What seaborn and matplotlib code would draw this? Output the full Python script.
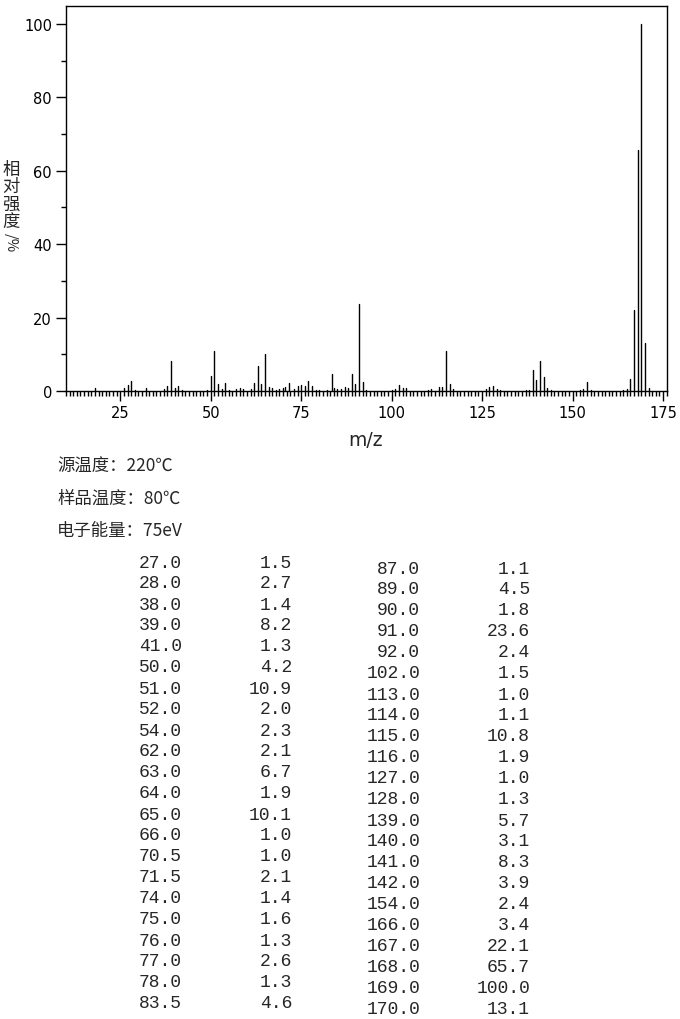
import pandas as pd
import seaborn as sns
import matplotlib.pyplot as plt
from matplotlib.ticker import MultipleLocator

# 质谱数据（表中列出的峰）
table_mz = [27.0, 28.0, 38.0, 39.0, 41.0, 50.0, 51.0, 52.0, 54.0, 62.0, 63.0,
            64.0, 65.0, 66.0, 70.5, 71.5, 74.0, 75.0, 76.0, 77.0, 78.0, 83.5,
            87.0, 89.0, 90.0, 91.0, 92.0, 102.0, 113.0, 114.0, 115.0, 116.0,
            127.0, 128.0, 139.0, 140.0, 141.0, 142.0, 154.0, 166.0, 167.0,
            168.0, 169.0, 170.0]
table_int = [1.5, 2.7, 1.4, 8.2, 1.3, 4.2, 10.9, 2.0, 2.3, 2.1, 6.7,
             1.9, 10.1, 1.0, 1.0, 2.1, 1.4, 1.6, 1.3, 2.6, 1.3, 4.6,
             1.1, 4.5, 1.8, 23.6, 2.4, 1.5, 1.0, 1.1, 10.8, 1.9,
             1.0, 1.3, 5.7, 3.1, 8.3, 3.9, 2.4, 3.4, 22.1,
             65.7, 100.0, 13.1]

# 小峰（<1%）
minor_mz = [18, 26, 29, 32, 37, 40, 42, 49, 53, 55, 57, 58, 59, 61, 67, 68,
            69, 70, 73, 79, 80, 82, 84, 85, 86, 88, 93, 100, 101, 103, 104,
            110, 111, 117, 126, 129, 130, 137, 138, 143, 144, 152, 153, 155,
            164, 165, 171]
minor_int = [0.8, 0.8, 0.4, 0.9, 0.5, 0.9, 0.4, 0.4, 0.5, 0.4, 0.6, 0.8, 0.6,
             0.6, 0.7, 0.4, 0.6, 0.8, 0.5, 0.4, 0.4, 0.4, 0.8, 0.6, 0.5, 0.8,
             0.4, 0.4, 0.5, 0.7, 0.8, 0.4, 0.5, 0.5, 0.6, 0.6, 0.4, 0.4, 0.4,
             0.8, 0.3, 0.4, 0.6, 0.4, 0.4, 0.6, 0.8]

info_lines = ["源温度：220℃", "样品温度：80℃", "电子能量：75eV"]

# 每个峰画成一条竖线：(mz, 0) -> (mz, 强度)
all_mz = table_mz + minor_mz
all_int = table_int + minor_int
rows = []
for i, (m, v) in enumerate(zip(all_mz, all_int)):
    rows.append({"peak": i, "mz": m, "intensity": 0.0})
    rows.append({"peak": i, "mz": m, "intensity": v})
df = pd.DataFrame(rows)

sns.set_style("ticks")
plt.rcParams["font.family"] = ["DejaVu Sans", "Noto Sans CJK SC"]

fig = plt.figure(figsize=(6.8, 10.2), dpi=100)
ax = fig.add_axes([66 / 680, 1 - 392 / 1020, 601 / 680, 385 / 1020])

sns.lineplot(data=df, x="mz", y="intensity", units="peak", estimator=None,
             color="black", linewidth=1.0, ax=ax, legend=False)

ax.set_xlim(10, 176.1)
ax.set_ylim(0, 104.9)
ax.xaxis.set_major_locator(MultipleLocator(25))
ax.xaxis.set_minor_locator(MultipleLocator(1))
ax.yaxis.set_major_locator(MultipleLocator(20))
ax.yaxis.set_minor_locator(MultipleLocator(10))
ax.tick_params(axis="both", which="major", direction="out", length=7,
               width=1, color="black", labelsize=10.5, labelcolor="black")
ax.tick_params(axis="both", which="minor", direction="out", length=3.5,
               width=1, color="black")
ax.tick_params(axis="x", which="major", pad=3)
ax.tick_params(axis="y", which="major", pad=3)
for s in ax.spines.values():
    s.set_visible(True)
    s.set_color("black")
    s.set_linewidth(1.0)
ax.set_xlabel("")
ax.set_ylabel("")

# 坐标轴标题
fig.text(366 / 680, 1 - 440 / 1020, "m/z", ha="center", va="center",
         fontsize=13.5)
cjk = ["Noto Sans CJK SC", "DejaVu Sans"]
fig.text(11 / 680, 1 - 161 / 1020, "相\n对\n强\n度", ha="center", va="top",
         fontsize=12.5, linespacing=0.95, family=cjk)
fig.text(11 / 680, 1 - 243 / 1020, "/%", ha="center", va="center",
         fontsize=10.5, rotation=270, family=cjk)

# 实验条件
for k, line in enumerate(info_lines):
    fig.text(57 / 680, 1 - (467 + 32 * k) / 1020, line, ha="left",
             va="center", fontsize=12.5, family=cjk)

# 峰表：两栏
mono = ["Liberation Mono", "DejaVu Sans Mono"]
half = 22
for i in range(len(table_mz)):
    if i < half:
        y = 563 + 21 * i
        x1, x2 = 182, 292
    else:
        y = 569 + 21 * (i - half)
        x1, x2 = 420, 530
    fig.text(x1 / 680, 1 - y / 1020, f"{table_mz[i]:.1f}", ha="right",
             va="center", fontsize=13, family=mono)
    fig.text(x2 / 680, 1 - y / 1020, f"{table_int[i]:.1f}", ha="right",
             va="center", fontsize=13, family=mono)

fig.savefig("out.png", dpi=100)
